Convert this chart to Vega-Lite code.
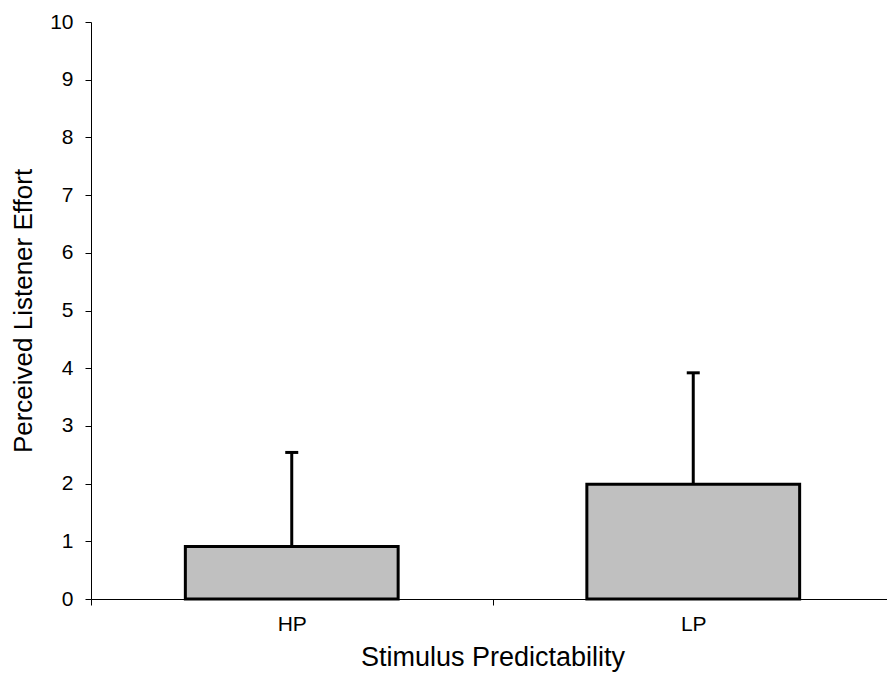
{
  "$schema": "https://vega.github.io/schema/vega-lite/v6.json",
  "autosize": "none",
  "padding": {"left": 91, "top": 22, "right": 0, "bottom": 76},
  "width": 796,
  "height": 577,
  "background": "white",
  "config": {
    "view": {"stroke": null},
    "font": "Liberation Sans",
    "axis": {"labelFont": "Liberation Sans", "titleFont": "Liberation Sans", "labelColor": "#000", "titleColor": "#000", "domainColor": "#000", "tickColor": "#000", "grid": false, "titleFontWeight": "normal"}
  },
  "data": {
    "values": [
      {"cond": "HP", "mean": 0.91, "upper": 2.54},
      {"cond": "LP", "mean": 1.99, "upper": 3.92}
    ]
  },
  "encoding": {
    "x": {
      "field": "cond", "type": "nominal", "sort": ["HP", "LP"],
      "scale": {"paddingInner": 0, "paddingOuter": 0, "range": [0, 803]},
      "axis": {"title": "Stimulus Predictability", "labelAngle": 0, "labelFontSize": 21, "titleFontSize": 27, "tickSize": 6, "tickBand": "extent", "labelPadding": 8, "titlePadding": 10, "domainWidth": 1, "tickWidth": 1}
    }
  },
  "layer": [
    {
      "mark": {"type": "bar", "fill": "#c0c0c0", "stroke": "#000", "strokeWidth": 3, "width": {"band": 0.53}},
      "encoding": {
        "y": {
          "field": "mean", "type": "quantitative",
          "scale": {"domain": [0, 10], "nice": false},
          "axis": {"title": "Perceived Listener Effort", "values": [0,1,2,3,4,5,6,7,8,9,10], "format": "d", "labelFontSize": 21, "titleFontSize": 26, "tickSize": 6, "labelPadding": 12, "titlePadding": 13, "domainWidth": 1, "tickWidth": 1}
        }
      }
    },
    {
      "mark": {"type": "rule", "stroke": "#000", "strokeWidth": 3},
      "encoding": {
        "y": {"field": "mean", "type": "quantitative"},
        "y2": {"field": "upper"}
      }
    },
    {
      "mark": {"type": "tick", "orient": "horizontal", "color": "#000", "size": 13, "thickness": 3, "opacity": 1},
      "encoding": {
        "y": {"field": "upper", "type": "quantitative"}
      }
    }
  ]
}
